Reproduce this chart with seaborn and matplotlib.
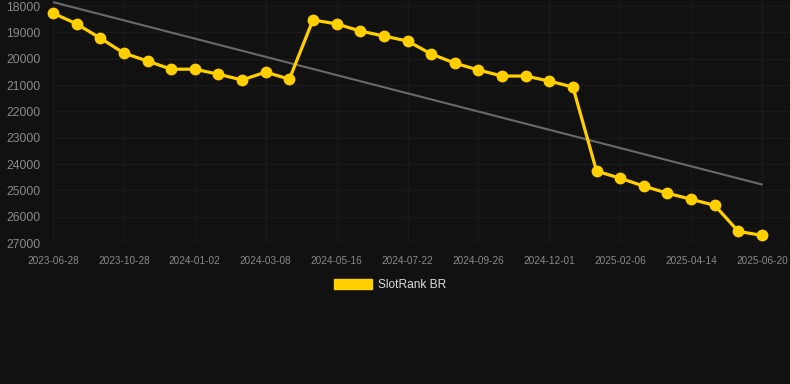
import numpy as np
import pandas as pd
import matplotlib
matplotlib.use("Agg")
import matplotlib.pyplot as plt
import seaborn as sns

dates = [
    "2023-06-28", "2023-08-08", "2023-09-18", "2023-10-28", "2023-11-19", "2023-12-11",
    "2024-01-02", "2024-01-24", "2024-02-14", "2024-03-08", "2024-03-31", "2024-04-23",
    "2024-05-16", "2024-06-07", "2024-06-29", "2024-07-22", "2024-08-13", "2024-09-04",
    "2024-09-26", "2024-10-18", "2024-11-09", "2024-12-01", "2024-12-23", "2025-01-14",
    "2025-02-06", "2025-02-28", "2025-03-22", "2025-04-14", "2025-05-06", "2025-05-28",
    "2025-06-20",
]
ranks = [
    18270, 18680, 19220, 19790, 20090, 20400, 20400, 20590, 20810, 20510, 20780,
    18530, 18680, 18950, 19140, 19330, 19820, 20170, 20430, 20660, 20660, 20850,
    21080, 24270, 24540, 24840, 25110, 25340, 25570, 26560, 26710,
]
y_ticks = [18000, 19000, 20000, 21000, 22000, 23000, 24000, 25000, 26000, 27000]
series_name = "SlotRank BR"

bg = "#111111"
yellow = "#ffcf00"

sns.set_style("dark")
plt.rcParams["font.family"] = ["Liberation Sans", "DejaVu Sans"]

df = pd.DataFrame({"date": dates, "rank": ranks})
pos = np.arange(len(dates))

fig = plt.figure(figsize=(7.9, 3.84), dpi=100, facecolor=bg)
ax = fig.add_axes([53 / 790, 1 - 243 / 384, 1 - 53 / 790, 243 / 384])
ax.set_facecolor(bg)

# trend line (least squares fit of the rank series)
k, b = np.polyfit(pos, df["rank"], 1)
ax.plot(pos, k * pos + b, color="#6a6a6a", linewidth=1.5, zorder=2)

sns.lineplot(x=pos, y=df["rank"], ax=ax, color=yellow, linewidth=2.3,
             marker="o", markersize=8.5, markeredgewidth=0, label=series_name,
             zorder=3, legend=False, clip_on=False)

ax.set_xlim(0, (790 - 53) / ((762 - 53) / 30))
ax.set_ylim(27000, 18000 - 6 / 26.33 * 1000)
ax.set_yticks(y_ticks)
ax.set_yticklabels([str(t) for t in y_ticks])
ax.set_xticks(pos[::3])
ax.set_xticklabels(dates[::3])
ax.grid(True, color="#1a1a1a", linewidth=1)
ax.tick_params(axis="y", colors="#8a8a8a", labelsize=8.8, length=0, pad=9)
ax.tick_params(axis="x", colors="#8a8a8a", labelsize=7.2, length=0, pad=9)
ax.set_xlabel("")
ax.set_ylabel("")
for s in ax.spines.values():
    s.set_visible(False)
ax.axhline(27000, color="#2a2a2a", linewidth=1, zorder=1)

handle = plt.Rectangle((0, 0), 1, 1, color=yellow)
fig.legend([handle], [series_name], loc="center", bbox_to_anchor=(390 / 790, 1 - 285 / 384),
           frameon=False, fontsize=8.6, labelcolor="#dddddd", handlelength=3.2,
           handleheight=0.9, handletextpad=0.5)

fig.savefig("out.png", dpi=100, facecolor=bg)
